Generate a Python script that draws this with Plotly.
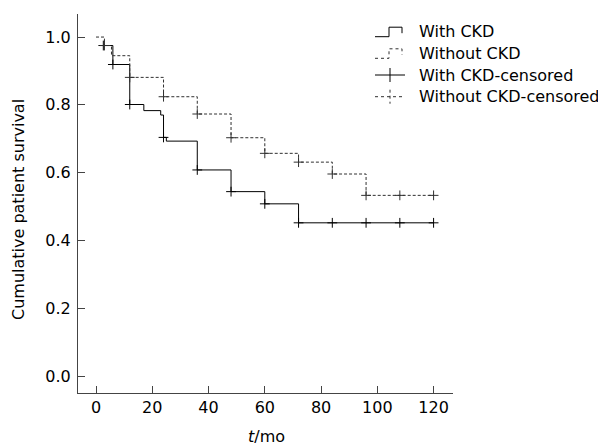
import plotly.graph_objects as go

# ---- data ----
with_ckd_t = [2, 6, 12, 17, 23, 24, 25, 36, 48, 60, 72, 120]
with_ckd_s = [0.975, 0.919, 0.801, 0.783, 0.770, 0.704, 0.693, 0.608, 0.544, 0.508, 0.452, 0.452]

without_ckd_t = [0, 3, 5.5, 12, 24, 36, 48, 60, 72, 84, 96, 120]
without_ckd_s = [1.0, 0.975, 0.945, 0.881, 0.824, 0.773, 0.703, 0.657, 0.631, 0.596, 0.533, 0.533]

with_ckd_censor_t = [2.6, 6, 12, 24, 36, 48, 60, 72, 84, 96, 108, 120]
without_ckd_censor_t = [3, 12, 24, 36, 48, 60, 72, 84, 96, 108, 120]

x_ticks = [0, 20, 40, 60, 80, 100, 120]
y_ticks = [0.0, 0.2, 0.4, 0.6, 0.8, 1.0]
y_tick_labels = ["0.0", "0.2", "0.4", "0.6", "0.8", "1.0"]

legend_labels = ["With CKD", "Without CKD", "With CKD-censored", "Without CKD-censored"]


def step_value(ts, ss, t):
    v = ss[0]
    for ti, si in zip(ts, ss):
        if ti <= t:
            v = si
    return v


FONT = "DejaVu Sans"
SOLID = "#000000"
DOT = "#303030"
AXIS = "#444444"
DASH = "3px,2px"

fig = go.Figure()
fig.add_trace(go.Scatter(x=with_ckd_t, y=with_ckd_s, mode="lines", line_shape="hv",
                         line=dict(color=SOLID, width=1), showlegend=False))
fig.add_trace(go.Scatter(x=without_ckd_t, y=without_ckd_s, mode="lines", line_shape="hv",
                         line=dict(color=DOT, width=1, dash=DASH), showlegend=False))
fig.add_trace(go.Scatter(x=with_ckd_censor_t,
                         y=[step_value(with_ckd_t, with_ckd_s, t) for t in with_ckd_censor_t],
                         mode="markers",
                         marker=dict(symbol="cross-thin", size=7, line=dict(color=SOLID, width=1)),
                         showlegend=False))
fig.add_trace(go.Scatter(x=without_ckd_censor_t,
                         y=[step_value(without_ckd_t, without_ckd_s, t) for t in without_ckd_censor_t],
                         mode="markers",
                         marker=dict(symbol="cross-thin", size=7, line=dict(color=DOT, width=1)),
                         showlegend=False))

# page is rendered with an 8px body margin -> work in page pixels and shift
OFF = 8
PAGE_W, PAGE_H = 606, 447
W, H = PAGE_W - OFF, PAGE_H - OFF
L, R, T, B = 78 - OFF, 453 - OFF, 14 - OFF, 393 - OFF


def px(x):
    return (x - OFF - L) / (R - L)


def py(y):
    return (B - (y - OFF)) / (B - T)


shapes = []
annotations = []
# legend icons (page pixel positions)
icon_rows = [31.7, 53.3, 75.0, 96.7]
for i, yc in enumerate(icon_rows[:2]):
    col = SOLID if i == 0 else DOT
    dash = "solid" if i == 0 else "dot"
    path = "M {},{} L {},{} L {},{} L {},{} L {},{}".format(
        px(375), py(yc + 5), px(389), py(yc + 5), px(389), py(yc - 4.5),
        px(402), py(yc - 4.5), px(402), py(yc + 1.5))
    shapes.append(dict(type="path", path=path, xref="paper", yref="paper",
                       line=dict(color=col, width=1, dash=dash)))
for i, yc in enumerate(icon_rows[2:]):
    col = SOLID if i == 0 else DOT
    dash = "solid" if i == 0 else "dot"
    shapes.append(dict(type="line", xref="paper", yref="paper",
                       x0=px(375), x1=px(405), y0=py(yc), y1=py(yc),
                       line=dict(color=col, width=1, dash=dash)))
    shapes.append(dict(type="line", xref="paper", yref="paper",
                       x0=px(390), x1=px(390), y0=py(yc - 7), y1=py(yc + 7),
                       line=dict(color=col, width=1, dash=dash)))
for lab, yc in zip(legend_labels, icon_rows):
    annotations.append(dict(text=lab, x=px(417), y=py(yc), xref="paper", yref="paper",
                            xanchor="left", yanchor="middle", showarrow=False,
                            font=dict(family=FONT, size=16, color="#000")))

annotations.append(dict(text="<i>t</i>/mo", x=px(266), y=py(436), xref="paper", yref="paper",
                        xanchor="center", yanchor="middle", showarrow=False,
                        font=dict(family=FONT, size=16, color="#000")))
annotations.append(dict(text="Cumulative patient survival", x=px(18), y=py(210), xref="paper",
                        yref="paper", xanchor="center", yanchor="middle", showarrow=False,
                        textangle=-90, font=dict(family=FONT, size=16, color="#000")))

fig.update_layout(
    width=W, height=H,
    margin=dict(l=L, r=W - R, t=T, b=H - B),
    paper_bgcolor="white", plot_bgcolor="white",
    font=dict(family=FONT, size=16, color="#000"),
    shapes=shapes, annotations=annotations,
    showlegend=False,
)
fig.update_xaxes(range=[-6.4, 126.9], tickvals=x_ticks, ticks="inside", ticklen=7,
                 tickcolor=AXIS, showline=True, linecolor=AXIS, linewidth=1,
                 showgrid=False, zeroline=False, tickfont=dict(family=FONT, size=16, color="#000"))
fig.update_yaxes(range=[-0.050, 1.068], tickvals=y_ticks, ticktext=y_tick_labels,
                 ticks="inside", ticklen=7, tickcolor=AXIS, showline=True, linecolor=AXIS,
                 linewidth=1, showgrid=False, zeroline=False, ticklabelstandoff=3,
                 tickfont=dict(family=FONT, size=16, color="#000"))

fig.write_html("out.html")
